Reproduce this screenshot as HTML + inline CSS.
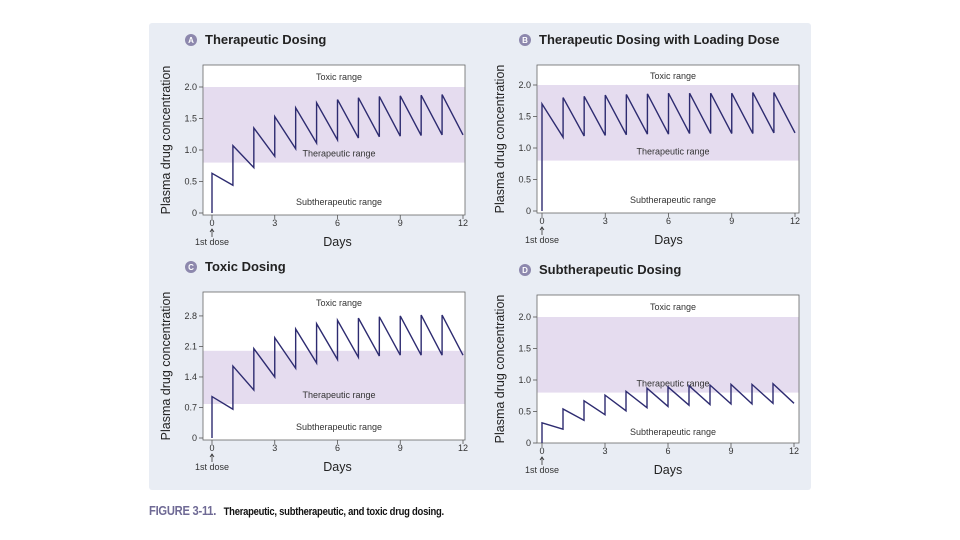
<!DOCTYPE html>
<html><head><meta charset="utf-8">
<style>
body{margin:0;width:960px;height:540px;background:#fff;font-family:"Liberation Sans",sans-serif;overflow:hidden;position:relative}
#card{position:absolute;left:149px;top:23px;width:662px;height:467px;background:#e9edf4;border-radius:3px}
#cap{position:absolute;left:149px;top:503px;font-size:11px;font-weight:bold;color:#111;letter-spacing:-0.3px;transform:scaleX(0.86);transform-origin:0 0;white-space:nowrap}
#cap span{color:#6f6a95;font-size:13px;margin-right:6px}
svg{position:absolute;left:0;top:0}
</style></head><body>
<div id="card"></div>
<div id="cap"><span>FIGURE 3-11.</span> Therapeutic, subtherapeutic, and toxic drug dosing.</div>
<svg id="s" width="960" height="540"></svg>
<script>
const days=[0,1,2,3,4,5,6,7,8,9,10,11];
const peaksA=[0.63,1.07,1.35,1.53,1.67,1.75,1.80,1.83,1.85,1.86,1.87,1.88];
const troughsA=[0.44,0.72,0.90,1.02,1.11,1.16,1.19,1.21,1.22,1.23,1.24,1.24];
const peaksB=[1.70,1.80,1.82,1.84,1.85,1.86,1.87,1.87,1.87,1.87,1.88,1.88];
const troughsB=[1.17,1.19,1.20,1.21,1.22,1.22,1.23,1.23,1.23,1.23,1.24,1.24];
const peaksC=[0.95,1.65,2.05,2.30,2.50,2.62,2.70,2.75,2.78,2.80,2.82,2.82];
const troughsC=[0.66,1.10,1.40,1.60,1.72,1.80,1.85,1.88,1.90,1.90,1.90,1.90];
const peaksD=[0.32,0.54,0.67,0.76,0.82,0.87,0.89,0.91,0.92,0.93,0.93,0.94];
const troughsD=[0.22,0.36,0.45,0.51,0.56,0.58,0.60,0.61,0.62,0.62,0.63,0.63];
const xTicks=[0,3,6,9,12];
const yTicksStd=[0,0.5,1.0,1.5,2.0];
const yTickLabelsStd=["0","0.5","1.0","1.5","2.0"];
const yTicksC=[0,0.7,1.4,2.1,2.8];
const yTickLabelsC=["0","0.7","1.4","2.1","2.8"];
const panels=[
 {id:"a",letter:"A",title:"Therapeutic Dosing",bx:203,by:65,bw:262,bh:150,x0:212,x1:463,y0:213,ppu:63,band:[0.8,2.0],peaks:peaksA,troughs:troughsA,yt:yTicksStd,yl:yTickLabelsStd,toxY:null},
 {id:"b",letter:"B",title:"Therapeutic Dosing with Loading Dose",bx:537,by:65,bw:262,bh:148,x0:542,x1:795,y0:211,ppu:63,band:[0.8,2.0],peaks:peaksB,troughs:troughsB,yt:yTicksStd,yl:yTickLabelsStd,toxY:null},
 {id:"c",letter:"C",title:"Toxic Dosing",bx:203,by:292,bw:262,bh:148,x0:212,x1:463,y0:438,ppu:43.6,band:[0.78,2.0],peaks:peaksC,troughs:troughsC,yt:yTicksC,yl:yTickLabelsC,toxY:306},
 {id:"d",letter:"D",title:"Subtherapeutic Dosing",bx:537,by:295,bw:262,bh:148,x0:542,x1:794,y0:443,ppu:63,band:[0.8,2.0],peaks:peaksD,troughs:troughsD,yt:yTicksStd,yl:yTickLabelsStd,toxY:null}
];
const svg=document.getElementById('s');const NS="http://www.w3.org/2000/svg";
function mk(t,a,p){const e=document.createElementNS(NS,t);for(const k in a)e.setAttribute(k,a[k]);(p||svg).appendChild(e);return e;}
function txt(x,y,s,a,p){const e=mk('text',Object.assign({x:x,y:y},a),p);e.textContent=s;return e;}
panels.forEach(P=>{
 const g=mk('g',{});
 
 
 const X=d=>P.x0+(P.x1-P.x0)*d/12, Y=v=>P.y0-v*P.ppu;
 const c=mk('circle',{cx:P.bx-12,cy:P.by-25,r:6,fill:'#8d88ad'},g);
 
 txt(P.bx-12,P.by-22,P.letter,{'font-size':8,'font-weight':'bold',fill:'#fff','text-anchor':'middle'},g);
 const t=txt(P.bx+2,P.by-21,P.title,{'font-size':13,'font-weight':'bold',fill:'#222'},g);
 
 const r=mk('rect',{x:P.bx,y:P.by,width:P.bw,height:P.bh,fill:'#fff',stroke:'#666','stroke-width':0.8},g);
 
 const b=mk('rect',{x:P.bx+0.5,y:Y(P.band[1]),width:P.bw-1,height:Y(P.band[0])-Y(P.band[1]),fill:'#e5dcef'},g);
 
 const cx=(P.bx+P.bw/2)+5;
 const ty=P.toxY!==null?P.toxY:(P.by+Y(P.band[1]))/2+4;
 txt(cx,ty,'Toxic range',{'font-size':9,fill:'#333','text-anchor':'middle'},g);
 txt(cx,Y(P.band[0])-6,'Therapeutic range',{'font-size':9,fill:'#333','text-anchor':'middle'},g);
 txt(cx,P.y0-8,'Subtherapeutic range',{'font-size':9,fill:'#333','text-anchor':'middle'},g);
 P.yt.forEach((v,i)=>{mk('line',{x1:P.bx-4,x2:P.bx,y1:Y(v),y2:Y(v),stroke:'#555','stroke-width':0.8},g);
  txt(P.bx-6,Y(v)+3,P.yl[i],{'font-size':9,fill:'#333','text-anchor':'end'},g);});
 xTicks.forEach(d=>{mk('line',{x1:X(d),x2:X(d),y1:P.by+P.bh,y2:P.by+P.bh+4,stroke:'#555','stroke-width':0.8},g);
  txt(X(d),P.by+P.bh+11,String(d),{'font-size':9,fill:'#333','text-anchor':'middle'},g);});
 txt(P.x0,P.by+P.bh+30,'1st dose',{'font-size':9,fill:'#333','text-anchor':'middle'},g);
 mk('path',{d:`M${P.x0} ${P.by+P.bh+22}V${P.by+P.bh+14}M${P.x0-2} ${P.by+P.bh+17}L${P.x0} ${P.by+P.bh+14}L${P.x0+2} ${P.by+P.bh+17}`,stroke:'#333',fill:'none','stroke-width':0.8},g);
 txt((P.x0+P.x1)/2,P.by+P.bh+31,'Days',{'font-size':12.5,fill:'#222','text-anchor':'middle'},g);
 const yt=txt(0,0,'Plasma drug concentration',{'font-size':12.5,fill:'#222','text-anchor':'middle',transform:`translate(${P.bx-33},${P.by+P.bh/2}) rotate(-90)`},g);
 
 let d=`M${X(0)} ${Y(0)}`;
 days.forEach((day,i)=>{d+=` L${X(day)} ${Y(P.peaks[i])} L${X(day+1)} ${Y(P.troughs[i])}`;});
 const l=mk('path',{d:d,fill:'none',stroke:'#2d2b70','stroke-width':1.4},g);
 
});
</script>
</body></html>
